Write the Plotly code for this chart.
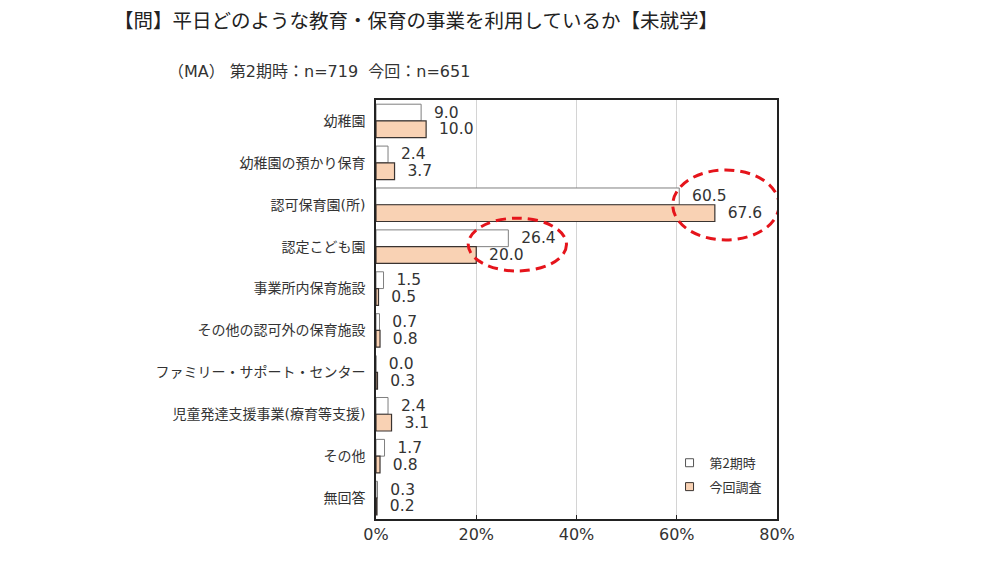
import plotly.graph_objects as go

categories = [
    "幼稚園",
    "幼稚園の預かり保育",
    "認可保育園(所)",
    "認定こども園",
    "事業所内保育施設",
    "その他の認可外の保育施設",
    "ファミリー・サポート・センター",
    "児童発達支援事業(療育等支援)",
    "その他",
    "無回答",
]
prev_values = [9.0, 2.4, 60.5, 26.4, 1.5, 0.7, 0.0, 2.4, 1.7, 0.3]
curr_values = [10.0, 3.7, 67.6, 20.0, 0.5, 0.8, 0.3, 3.1, 0.8, 0.2]
series_names = ["第2期時", "今回調査"]
x_ticks = [0, 20, 40, 60, 80]
x_tick_labels = ["0%", "20%", "40%", "60%", "80%"]

FONT = "DejaVu Sans, Noto Sans CJK JP"
CJK = "Noto Sans CJK JP"
TXT = "#333333"
ORANGE = "#F9D2B4"

# page body has an 8px offset; compensate
OFF = 8
PL, PR, PT, PB = 376, 777, 100, 519  # plot area in page pixels

def px_x(p):
    return (p - PL) / (PR - PL)

def px_y(p):
    return (PB - p) / (PB - PT)

pos = list(range(len(categories)))
bounds = [i + 0.5 for i in range(-1, len(categories))]
yr = [len(categories) - 0.5, -0.5]

fig = go.Figure()
fig.add_trace(go.Bar(
    y=pos, x=prev_values, orientation="h", name=series_names[0],
    marker=dict(color="white", line=dict(color="#7f7f7f", width=1)),
    text=["  " + f"{v:.1f}" for v in prev_values], textposition="outside",
    textfont=dict(family=FONT, size=15.5, color=TXT), cliponaxis=False,
    constraintext="none", showlegend=False,
))
fig.add_trace(go.Bar(
    y=pos, x=curr_values, orientation="h", name=series_names[1],
    marker=dict(color=ORANGE, line=dict(color="#3a3330", width=1.2)),
    text=["  " + f"{v:.1f}" for v in curr_values], textposition="outside",
    textfont=dict(family=FONT, size=15.5, color=TXT), cliponaxis=False,
    constraintext="none", showlegend=False,
))
# legend entries
fig.add_trace(go.Scatter(
    x=[None], y=[None], mode="markers", name=series_names[0], legendgroup="a",
    marker=dict(symbol="square", size=8, color="white", line=dict(color="#555555", width=1)),
))
fig.add_trace(go.Scatter(
    x=[None], y=[None], mode="markers", name=series_names[1], legendgroup="b",
    marker=dict(symbol="square", size=8, color=ORANGE, line=dict(color="#3a3330", width=1)),
))

fig.update_layout(
    width=1000, height=562,
    margin=dict(l=PL - OFF, r=1000 - PR + OFF, t=PT - OFF, b=562 - PB + OFF),
    paper_bgcolor="white", plot_bgcolor="white",
    barmode="group", bargap=0.2, bargroupgap=0,
    font=dict(family=FONT, color=TXT),
    xaxis=dict(
        range=[0, 80], tickvals=x_ticks, ticktext=x_tick_labels,
        showgrid=True, gridcolor="#d4d4d4", gridwidth=1,
        showline=True, linecolor="#222222", linewidth=1.5, mirror=True,
        ticks="inside", ticklen=4, tickcolor="#222222",
        tickfont=dict(family=FONT, size=16, color=TXT), zeroline=False,
    ),
    yaxis=dict(
        range=yr, tickvals=pos, ticktext=categories, ticks="",
        showline=True, linecolor="#222222", linewidth=1.5, mirror=True,
        showgrid=False, zeroline=False, ticklabelstandoff=6,
        tickfont=dict(family=FONT, size=14, color=TXT),
    ),
    yaxis2=dict(
        overlaying="y", range=yr, tickvals=bounds, ticktext=[""] * len(bounds),
        ticks="outside", ticklen=4, tickcolor="#222222", showgrid=False,
        showline=False, zeroline=False, showticklabels=False,
    ),
    yaxis3=dict(
        overlaying="y", range=yr, tickvals=bounds, ticktext=[""] * len(bounds),
        ticks="inside", ticklen=4, tickcolor="#222222", showgrid=False,
        showline=False, zeroline=False, showticklabels=False,
    ),
    legend=dict(
        x=0.732, xanchor="left", y=0.17, yanchor="top",
        bgcolor="rgba(0,0,0,0)", font=dict(family=CJK, size=13, color=TXT),
        traceorder="grouped", tracegroupgap=4, itemwidth=30,
    ),
    annotations=[
        dict(
            text="【問】平日どのような教育・保育の事業を利用しているか【未就学】",
            xref="paper", yref="paper", x=px_x(112), y=px_y(19),
            xanchor="left", yanchor="middle", showarrow=False,
            font=dict(family=CJK, size=19.5, color="#222222"),
        ),
        dict(
            text="（MA） 第2期時：n=719  今回：n=651",
            xref="paper", yref="paper", x=px_x(166), y=px_y(72),
            xanchor="left", yanchor="middle", showarrow=False,
            font=dict(family=FONT, size=16, color=TXT),
        ),
    ],
    shapes=[
        dict(type="circle", xref="x", yref="y", x0=59.2, x1=80.4, y0=1.17, y1=2.84,
             line=dict(color="#E5141B", width=3, dash="10px,6px")),
        dict(type="circle", xref="x", yref="y", x0=18.4, x1=38.0, y0=2.32, y1=3.58,
             line=dict(color="#E5141B", width=3, dash="10px,6px")),
    ],
)

fig.write_html("out.html")
